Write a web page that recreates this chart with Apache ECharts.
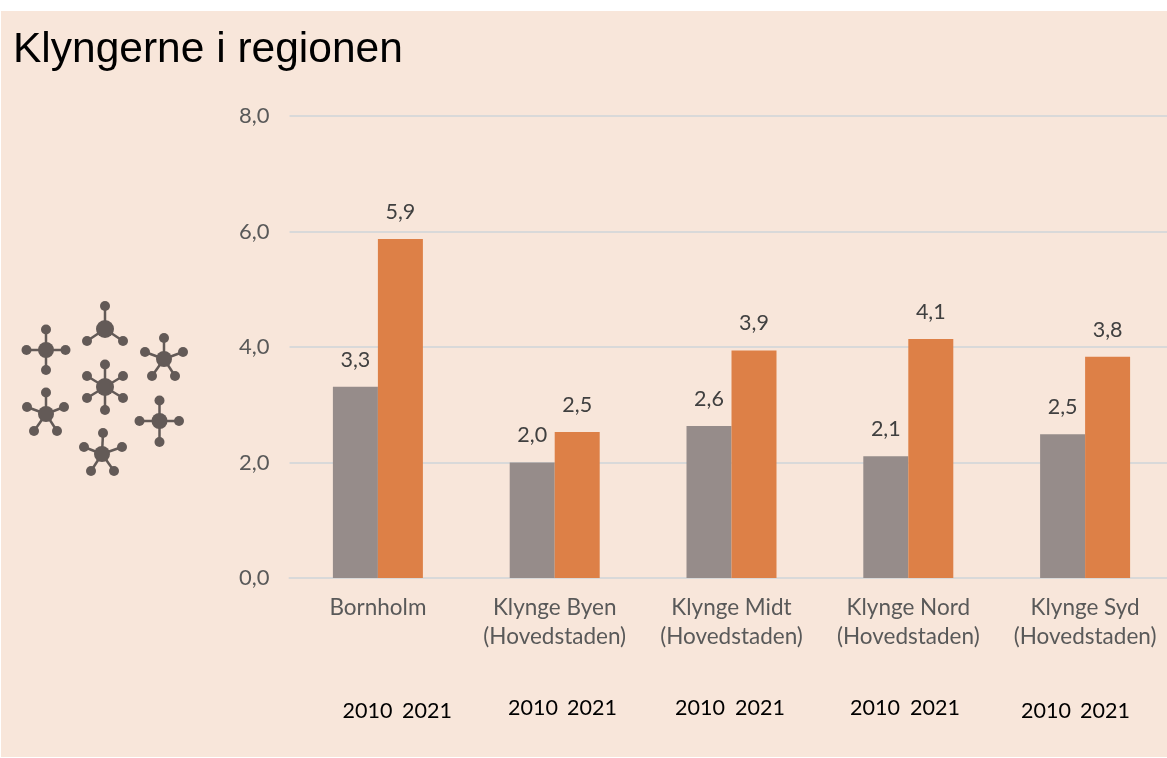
<!DOCTYPE html>
<html>
<head>
<meta charset="utf-8">
<style>html,body{margin:0;padding:0;background:#fff}#c{width:1167px;height:758px}</style>
<script src="https://cdn.jsdelivr.net/npm/echarts@6/dist/echarts.min.js"></script>
</head>
<body>
<div id="c"></div>
<script>
const categories = ['Bornholm','Klynge Byen\n(Hovedstaden)','Klynge Midt\n(Hovedstaden)','Klynge Nord\n(Hovedstaden)','Klynge Syd\n(Hovedstaden)'];
const values2010 = [3.31,2.0,2.63,2.11,2.49];
const values2021 = [5.87,2.53,3.94,4.14,3.83];
const yearNames = ['2010','2021'];
const yearLabelSpots = [[367.5,711,427,711],[533,708,592,708],[700,708,760,708],[875,708,935,708],[1046,711,1105,711]];
// decorative icon: [centre x, centre y, centre r, satellites...] in page pixels
const icons = [
 [46,350,8,[[46,329.5],[46,370],[26.5,350],[65.5,350]]],
 [105,329,9,[[105,306],[87,341],[123,341]]],
 [164,359,8,[[164,338],[145,352],[183,352],[152,376],[175,376]]],
 [105,387,9,[[105,364.5],[87,376],[123,376],[87,398],[123,398],[105,410]]],
 [46,414,8,[[46,392.5],[27,407],[64,407],[34,431],[57,431]]],
 [159.5,421,8,[[159.5,400.5],[139.5,421],[179,421],[159.5,442]]],
 [102,454,8,[[103,433],[84,447],[122,447],[91,471],[114,471]]]
];
const iconColor = '#635a57';
const graphics = [{type:'rect',z:-10,silent:true,shape:{x:1,y:11,width:1166,height:746},style:{fill:'#f8e6da'}}];
graphics.push({type:'text',x:13,y:50,style:{text:'Klyngerne i regionen',font:'42.5px "Liberation Sans"',fill:'#000',verticalAlign:'middle'}});
yearLabelSpots.forEach(s=>{
  [0,1].forEach(i=>graphics.push({type:'text',x:s[i*2],y:s[i*2+1],style:{text:yearNames[i],font:'21.5px Lato',fill:'#000',align:'center',verticalAlign:'middle'}}));
});
icons.forEach(ic=>{
  const [cx,cy,r,sats]=ic;
  sats.forEach(p=>{
    graphics.push({type:'line',shape:{x1:cx,y1:cy,x2:p[0],y2:p[1]},style:{stroke:iconColor,lineWidth:2.5}});
    graphics.push({type:'circle',shape:{cx:p[0],cy:p[1],r:5},style:{fill:iconColor}});
  });
  graphics.push({type:'circle',shape:{cx:cx,cy:cy,r:r},style:{fill:iconColor}});
});
const labelFmt = p => p.value.toFixed(1).replace('.',',');
const barLabel = {show:true,position:'top',distance:16,fontFamily:'Lato',fontSize:21.5,color:'#404040',formatter:labelFmt};
const chart = echarts.init(document.getElementById('c'));
chart.setOption({
  animation:false,
  graphic:graphics,
  grid:{left:289.5,top:116,width:884,height:462,outerBoundsMode:'none'},
  xAxis:{type:'category',data:categories,
    axisLine:{lineStyle:{color:'#d9d9d9',width:2}},axisTick:{show:false},
    axisLabel:{interval:0,margin:15,fontFamily:'Lato',fontSize:22.5,color:'#595959',lineHeight:29,hideOverlap:false}},
  yAxis:{type:'value',min:0,max:8,interval:2,
    axisLine:{show:false},axisTick:{show:false},
    splitLine:{lineStyle:{color:'#d9d9d9',width:2}},
    axisLabel:{margin:20,fontFamily:'Lato',fontSize:22,color:'#595959',formatter:v=>v.toFixed(1).replace('.',',')}},
  series:[
    {name:yearNames[0],type:'bar',data:values2010,barWidth:45,barGap:0,itemStyle:{color:'#968c8a'},label:barLabel},
    {name:yearNames[1],type:'bar',data:values2021,barWidth:45,barGap:0,itemStyle:{color:'#dd8047'},label:barLabel}
  ]
});
</script>
</body>
</html>
